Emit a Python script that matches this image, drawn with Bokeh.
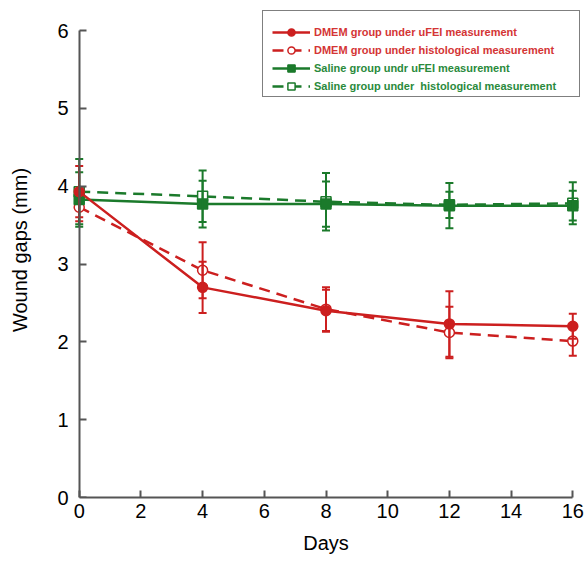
from bokeh.plotting import figure
from bokeh.models import (ColumnDataSource, Whisker, TeeHead, Legend, LegendItem,
                          Range1d, FixedTicker, LinearAxis)
from bokeh.embed import file_html
from bokeh.resources import INLINE

# ---- data ----
days = [0, 4, 8, 12, 16]
dmem_ufei = [3.93, 2.70, 2.40, 2.23, 2.20]
dmem_ufei_err = [0.33, 0.33, 0.27, 0.42, 0.16]
dmem_hist = [3.73, 2.92, 2.42, 2.12, 2.01]
dmem_hist_err = [0.18, 0.36, 0.28, 0.33, 0.19]
saline_ufei = [3.83, 3.77, 3.77, 3.75, 3.75]
saline_ufei_err = [0.35, 0.30, 0.29, 0.29, 0.19]
saline_hist = [3.93, 3.87, 3.80, 3.76, 3.78]
saline_hist_err = [0.42, 0.33, 0.37, 0.17, 0.27]

x_ticks = [0, 2, 4, 6, 8, 10, 12, 14, 16]
y_ticks = [0, 1, 2, 3, 4, 5, 6]

labels = ["DMEM group under uFEI measurement",
          "DMEM group under histological measurement",
          "Saline group undr uFEI measurement",
          "Saline group under  histological measurement"]

RED = "#cc1f1f"
GREEN = "#1b7a2b"
RED_TXT = "#d43535"
GREEN_TXT = "#2a8a3c"
FONT = "Liberation Sans"

p = figure(width=587, height=562, x_range=Range1d(-0.25, 16.25), y_range=Range1d(0, 6.36),
           output_backend="svg", toolbar_location=None,
           min_border_left=71, min_border_right=7, min_border_top=2, min_border_bottom=65)
p.outline_line_color = None
p.grid.visible = False
p.background_fill_color = "white"
p.border_fill_color = "white"

series = [
    (dmem_ufei, dmem_ufei_err, RED, "solid", "circle", True),
    (dmem_hist, dmem_hist_err, RED, "11 7", "circle", False),
    (saline_ufei, saline_ufei_err, GREEN, "solid", "square", True),
    (saline_hist, saline_hist_err, GREEN, "11 7", "square", False),
]

# draw the histological (open-marker) series first so the filled ones sit on top
draw_order = [3, 1, 2, 0]
items = [None] * 4
for i in draw_order:
    vals, errs, col, dash, mk, filled = series[i]
    src = ColumnDataSource(dict(x=days, y=vals,
                                lo=[v - e for v, e in zip(vals, errs)],
                                hi=[v + e for v, e in zip(vals, errs)]))
    w = Whisker(base="x", lower="lo", upper="hi", source=src, line_color=col, line_width=2,
                lower_head=TeeHead(size=8, line_color=col, line_width=2),
                upper_head=TeeHead(size=8, line_color=col, line_width=2),
                level="glyph")
    p.add_layout(w)
    ln = p.line("x", "y", source=src, line_color=col, line_width=2.5, line_dash=dash)
    sc = p.scatter("x", "y", source=src, marker=mk, size=10, line_color=col, line_width=1.5,
                   fill_color=col if filled else "white")
    items[i] = [ln, sc]


def style(ax):
    ax.axis_line_color = "#555555"
    ax.axis_line_width = 2
    ax.major_tick_line_color = "#555555"
    ax.major_tick_line_width = 2
    ax.major_tick_in = 7
    ax.major_tick_out = 0
    ax.minor_tick_line_color = None
    ax.major_label_text_font = FONT
    ax.major_label_text_font_size = "20px"
    ax.major_label_text_color = "black"
    ax.axis_label_text_font = FONT
    ax.axis_label_text_font_size = "20px"
    ax.axis_label_text_font_style = "normal"
    ax.axis_label_text_color = "black"


# x axis
xa = p.xaxis[0]
style(xa)
xa.ticker = FixedTicker(ticks=x_ticks)
xa.bounds = (0, 16)
xa.axis_label = "Days"
xa.major_label_standoff = 6
xa.axis_label_standoff = 11

# y axis: labels on the left panel, line + ticks at x = 0
ya = p.yaxis[0]
style(ya)
ya.ticker = FixedTicker(ticks=y_ticks)
ya.axis_line_color = None
ya.major_tick_line_color = None
ya.major_label_standoff = 3
ya.axis_label = "Wound gaps (mm)"
ya.axis_label_standoff = 23

ya2 = LinearAxis(ticker=FixedTicker(ticks=y_ticks), fixed_location=0, bounds=(0, 6),
                 major_label_overrides={t: "" for t in y_ticks}, major_label_standoff=0)
style(ya2)
p.add_layout(ya2, "left")

# legend frame (empty item used only to draw the box)
box_r = p.line(days, dmem_ufei, line_alpha=0)
legend_box = Legend(items=[LegendItem(label=" ", renderers=[box_r])], location=(191, 400),
                    padding=0, margin=0, glyph_width=1, glyph_height=85, label_height=85,
                    label_width=315, label_standoff=0, spacing=0,
                    border_line_color="black", border_line_width=1,
                    background_fill_color="white", background_fill_alpha=1)
p.add_layout(legend_box)

common = dict(padding=0, margin=0, glyph_width=38, glyph_height=18, label_height=18,
              label_standoff=4, spacing=0, border_line_alpha=0, background_fill_alpha=0,
              label_text_font=FONT, label_text_font_size="11px",
              label_text_font_style="bold")
legend_red = Legend(items=[LegendItem(label=labels[0], renderers=items[0]),
                           LegendItem(label=labels[1], renderers=items[1])],
                    location=(201, 438.5), label_text_color=RED_TXT, **common)
legend_green = Legend(items=[LegendItem(label=labels[2], renderers=items[2]),
                             LegendItem(label=labels[3], renderers=items[3])],
                      location=(201, 402.5), label_text_color=GREEN_TXT, **common)
p.add_layout(legend_red)
p.add_layout(legend_green)

open("out.html", "w").write(file_html(p, INLINE))
